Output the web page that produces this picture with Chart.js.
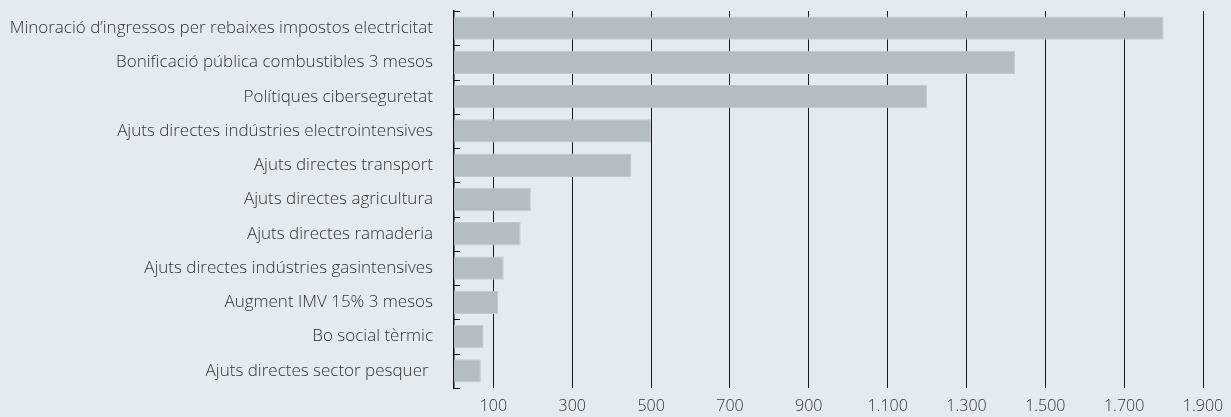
<!DOCTYPE html>
<html>
<head>
<meta charset="utf-8">
<script src="https://cdn.jsdelivr.net/npm/chart.js@4"></script>
<style>
html,body{margin:0;padding:0;background:#e3eaf0;}
#wrap{width:1231px;height:417px;}
</style>
</head>
<body>
<div id="wrap"><canvas id="c" width="1231" height="417"></canvas></div>
<script>
const categories = [
  "Minoració d’ingressos per rebaixes impostos electricitat",
  "Bonificació pública combustibles 3 mesos",
  "Polítiques ciberseguretat",
  "Ajuts directes indústries electrointensives",
  "Ajuts directes transport",
  "Ajuts directes agricultura",
  "Ajuts directes ramaderia",
  "Ajuts directes indústries gasintensives",
  "Augment IMV 15% 3 mesos",
  "Bo social tèrmic",
  "Ajuts directes sector pesquer "
];
const values = [1800, 1423, 1200, 500, 450, 195, 169, 126, 112, 75, 68];
const xTicks = [100, 300, 500, 700, 900, 1100, 1300, 1500, 1700, 1900];

const catTicks = {
  id: 'catTicks',
  afterDraw(chart) {
    const y = chart.scales.y, x = chart.scales.x;
    const ctx = chart.ctx;
    const x0 = x.left;
    ctx.save();
    ctx.strokeStyle = '#111';
    ctx.lineWidth = 1;
    for (let i = 0; i <= categories.length; i++) {
      const yy = Math.round(y.getPixelForValue(i - 0.5)) + 0.5;
      ctx.beginPath();
      ctx.moveTo(x0, yy);
      ctx.lineTo(x0 + 6, yy);
      ctx.stroke();
    }
    ctx.restore();
  }
};

new Chart(document.getElementById('c'), {
  type: 'bar',
  data: {
    labels: categories,
    datasets: [{
      data: values,
      backgroundColor: '#b4bec2',
      borderColor: '#c2cbcf',
      borderWidth: 1,
      barPercentage: 0.68,
      categoryPercentage: 1.0
    }]
  },
  options: {
    indexAxis: 'y',
    responsive: false,
    animation: false,
    layout: { padding: { top: 11, right: 28, bottom: 0, left: 10 } },
    plugins: { legend: { display: false }, tooltip: { enabled: false } },
    scales: {
      x: {
        min: 0, max: 1900,
        afterBuildTicks(scale) { scale.ticks = xTicks.map(v => ({ value: v })); },
        afterFit(scale) { scale.height = 29; scale.paddingLeft = 0; scale.paddingRight = 0; },
        grid: { color: '#1a1a1a', lineWidth: 1, drawTicks: false },
        border: { display: false },
        ticks: {
          color: '#333',
          font: { family: 'Open Sans', size: 16, weight: 300 },
          padding: 9,
          maxRotation: 0,
          autoSkip: false,
          callback(v) { return Number(v).toLocaleString('de-DE'); }
        }
      },
      y: {
        afterFit(scale) { scale.paddingTop = 0; scale.paddingBottom = 0; scale.width = 444; },
        grid: { display: false, drawTicks: false },
        border: { display: true, color: '#111', width: 1.5 },
        ticks: {
          color: '#333',
          font: { family: 'Open Sans', size: 17, weight: 300 },
          padding: 21,
          autoSkip: false
        }
      }
    }
  },
  plugins: [catTicks]
});
</script>
</body>
</html>
